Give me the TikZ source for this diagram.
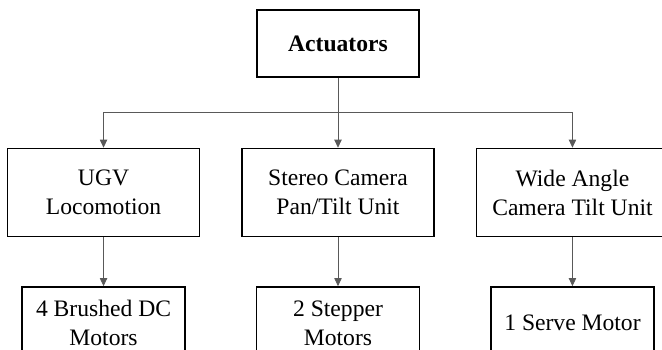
\documentclass[tikz,border=0pt]{standalone}
\usepackage{fontspec}
\setmainfont{Liberation Serif}
\usepackage{tikz}
\usetikzlibrary{arrows.meta, positioning, calc}

\begin{document}
\begin{tikzpicture}[
  node distance=52.5pt,
  topbox/.style={draw, rectangle, line width=1.1pt, minimum width=121.5pt,
                 minimum height=50.25pt, align=center,
                 font=\fontsize{17.7pt}{21.75pt}\selectfont\bfseries},
  unitbox/.style={draw, rectangle, line width=1.1pt, minimum width=144pt,
                  minimum height=66pt, align=center,
                  font=\fontsize{17.7pt}{21.75pt}\selectfont},
  motorbox/.style={draw, rectangle, line width=1.1pt, minimum width=122.25pt,
                   minimum height=54pt, align=center,
                   font=\fontsize{17.7pt}{21.75pt}\selectfont},
  arr/.style={-{Triangle[width=5.5pt,length=6pt]}, line width=0.6pt, draw=black!65}
]
  \useasboundingbox (0,0) rectangle (496.5pt,-262.5pt);
  \clip (0,0) rectangle (496.5pt,-262.5pt);

  \node[topbox] at (253.5pt,-32.6pt) (act) {Actuators};
  \node[unitbox, below=of act] (pan) {Stereo Camera\\Pan/Tilt Unit};
  \node[unitbox, left=30.75pt of pan] (ugv) {UGV\\Locomotion};
  \node[unitbox, right=30.75pt of pan] (tilt) {Wide Angle\\Camera Tilt Unit};
  \node[motorbox, below=36.75pt of ugv] (dc) {4 Brushed DC\\Motors};
  \node[motorbox, below=36.75pt of pan] (step) {2 Stepper\\Motors};
  \node[motorbox, below=36.75pt of tilt] (servo) {1 Serve Motor};

  \coordinate (split) at ($(act.south)!0.5!(pan.north)$);
  \draw[arr] (act) -- (pan);
  \draw[arr] (split) -| (ugv);
  \draw[arr] (split) -| (tilt);
  \draw[arr] (ugv) -- (dc);
  \draw[arr] (pan) -- (step);
  \draw[arr] (tilt) -- (servo);
\end{tikzpicture}
\end{document}
